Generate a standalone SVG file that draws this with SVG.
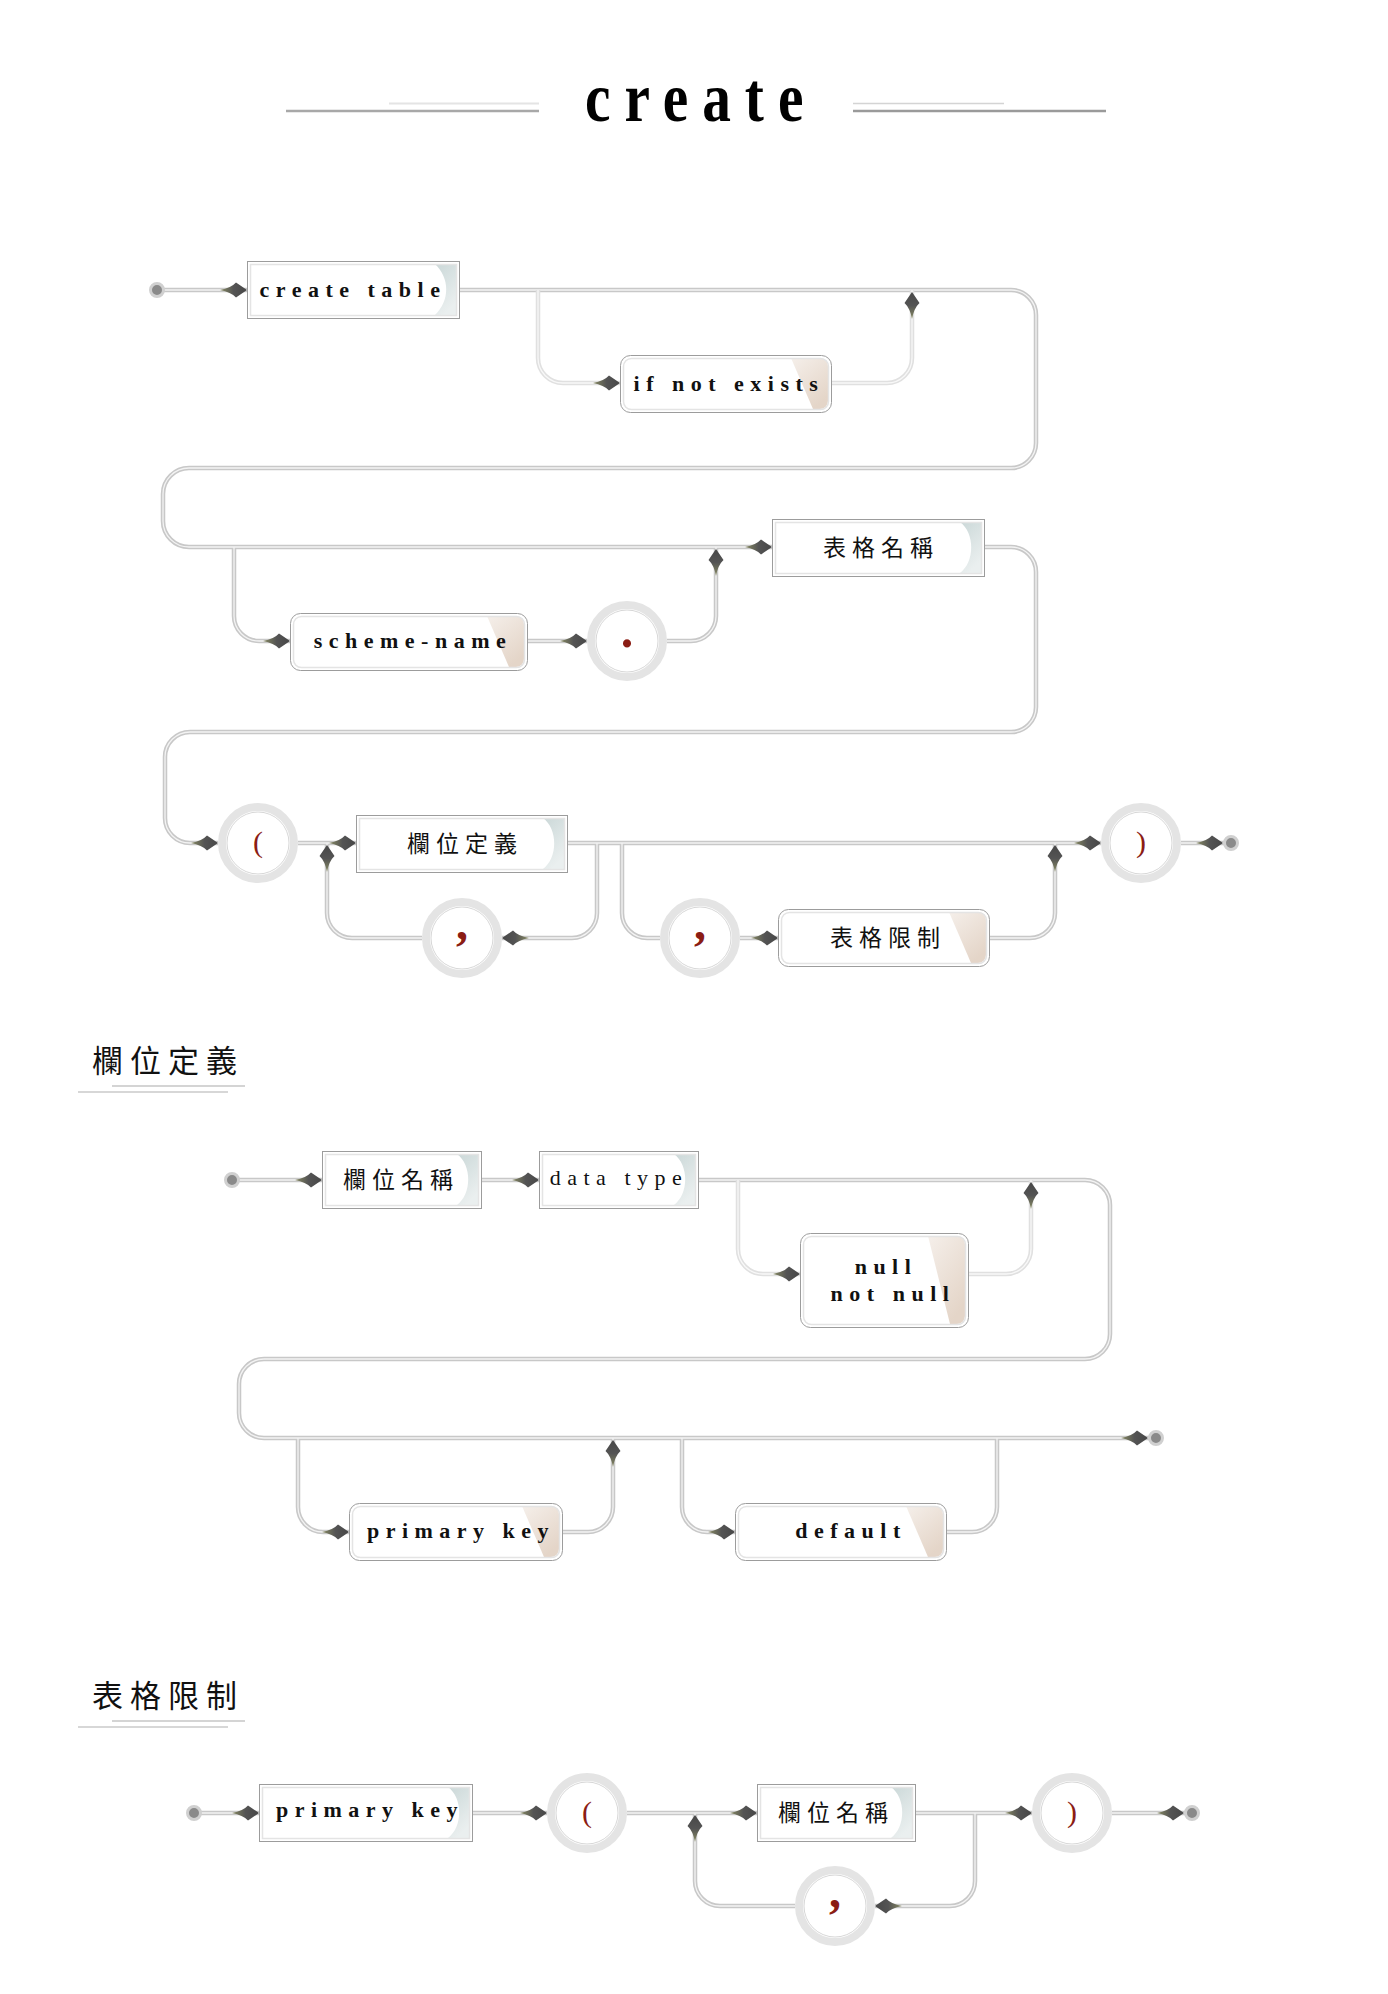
<svg xmlns="http://www.w3.org/2000/svg" xmlns:xlink="http://www.w3.org/1999/xlink" width="1388" height="1994" viewBox="0 0 1388 1994">
<style>
.bg{fill:#fff}
.nb{fill:#fff;stroke:#9c9c9c;stroke-width:1}
.ni{fill:none;stroke:#e4e4e4;stroke-width:1.5}
.pr{fill:url(#gr)}
.pq{fill:url(#gq)}
.ring{fill:#fff;stroke:#e4e4e4;stroke-width:8}
.ringi{fill:none;stroke:#cdcdcd;stroke-width:0.8}
.dot{fill:#8a8a8a;stroke:#d0d0d0;stroke-width:3}
.wo{fill:none;stroke:#c8c8c8;stroke-width:4.5}
.wi{fill:none;stroke:#f3f3f3;stroke-width:1.3}
.lo{fill:none;stroke:#e0e0e0;stroke-width:4.5}
.li{fill:none;stroke:#f8f8f8;stroke-width:1.3}
.lb{font-family:"Liberation Serif",serif;font-weight:bold;font-size:22px;letter-spacing:6.5px;fill:#111;text-anchor:middle}
.lr{font-family:"Liberation Serif",serif;font-weight:normal;font-size:22px;letter-spacing:6.5px;fill:#111;text-anchor:middle}
.cj{font-family:"Noto Sans CJK TC","Noto Sans CJK SC",sans-serif;font-size:23px;letter-spacing:6px;fill:#111;text-anchor:middle}
.hd{font-family:"Noto Sans CJK TC","Noto Sans CJK SC",sans-serif;font-size:31px;letter-spacing:7px;fill:#111}
.pn{font-family:"Liberation Serif",serif;font-size:30px;fill:#8b1d14;text-anchor:middle}
.cm{font-family:"Liberation Serif",serif;font-weight:bold;font-size:48px;fill:#8b1d14;text-anchor:middle}
.tt{font-family:"Liberation Serif",serif;font-weight:bold;font-size:70px;letter-spacing:17px;fill:#000}
</style>
<defs>
<linearGradient id="gr" x1="0" y1="0" x2="0.4" y2="1"><stop offset="0" stop-color="#cbd8d8"/><stop offset="1" stop-color="#eaefef"/></linearGradient>
<linearGradient id="gq" x1="0" y1="0" x2="0.6" y2="1"><stop offset="0" stop-color="#f5efea"/><stop offset="1" stop-color="#e4d5c8"/></linearGradient>
<linearGradient id="ag" x1="0" y1="0" x2="1" y2="0"><stop offset="0" stop-color="#878a62"/><stop offset="0.5" stop-color="#545454"/><stop offset="1" stop-color="#474747"/></linearGradient>
<path id="ar" d="M-27,0 Q-16,-2 -11,-7.5 L0,0 L-11,7.5 Q-16,2 -27,0Z" fill="url(#ag)"/>
<g id="wm">
<path d="M157,290 L247,290"/>
<path d="M459,290 L1011,290 A25,25 0 0 1 1036,315 L1036,443 A25,25 0 0 1 1011,468 L189,468 A26,26 0 0 0 163,494 L163,521 A26,26 0 0 0 189,547 L772,547"/>
<path d="M234,547 L234,616 A25,25 0 0 0 259,641 L290,641"/>
<path d="M527,641 L587,641"/>
<path d="M667,641 L691,641 A25,25 0 0 0 716,616 L716,547"/>
<path d="M984,547 L1011,547 A25,25 0 0 1 1036,572 L1036,707 A25,25 0 0 1 1011,732 L190,732 A25,25 0 0 0 165,757 L165,818 A25,25 0 0 0 190,843 L218,843"/>
<path d="M298,843 L356,843"/>
<path d="M567,843 L1101,843"/>
<path d="M1181,843 L1231,843"/>
<path d="M597,843 L597,913 A25,25 0 0 1 572,938 L502,938"/>
<path d="M422,938 L352,938 A25,25 0 0 1 327,913 L327,843"/>
<path d="M622,843 L622,913 A25,25 0 0 0 647,938 L660,938"/>
<path d="M740,938 L778,938"/>
<path d="M989,938 L1030,938 A25,25 0 0 0 1055,913 L1055,843"/>
<path d="M232,1180 L322,1180"/>
<path d="M481,1180 L539,1180"/>
<path d="M698,1180 L1085,1180 A25,25 0 0 1 1110,1205 L1110,1334 A25,25 0 0 1 1085,1359 L264,1359 A25,25 0 0 0 239,1384 L239,1413 A25,25 0 0 0 264,1438 L1156,1438"/>
<path d="M298,1438 L298,1507 A25,25 0 0 0 323,1532 L349,1532"/>
<path d="M562,1532 L588,1532 A25,25 0 0 0 613,1507 L613,1438"/>
<path d="M682,1438 L682,1507 A25,25 0 0 0 707,1532 L735,1532"/>
<path d="M946,1532 L972,1532 A25,25 0 0 0 997,1507 L997,1438"/>
<path d="M194,1813 L259,1813"/>
<path d="M472,1813 L547,1813"/>
<path d="M627,1813 L757,1813"/>
<path d="M915,1813 L1032,1813"/>
<path d="M1112,1813 L1192,1813"/>
<path d="M975,1813 L975,1881 A25,25 0 0 1 950,1906 L875,1906"/>
<path d="M795,1906 L720,1906 A25,25 0 0 1 695,1881 L695,1813"/>
</g>
<g id="wl">
<path d="M538,290 L538,358 A25,25 0 0 0 563,383 L620,383"/>
<path d="M831,383 L887,383 A25,25 0 0 0 912,358 L912,290"/>
<path d="M738,1180 L738,1249 A25,25 0 0 0 763,1274 L800,1274"/>
<path d="M968,1274 L1006,1274 A25,25 0 0 0 1031,1249 L1031,1180"/>
</g>
</defs>
<rect class="bg" x="0" y="0" width="1388" height="1994"/>

<g id="title">
<line x1="286" y1="111" x2="539" y2="111" stroke="#a8a8a8" stroke-width="2.5"/>
<line x1="389" y1="103.5" x2="539" y2="103.5" stroke="#e4e4e4" stroke-width="2"/>
<line x1="853" y1="103.5" x2="1004" y2="103.5" stroke="#d4d4d4" stroke-width="1.5"/>
<line x1="853" y1="111" x2="1106" y2="111" stroke="#9a9a9a" stroke-width="2.5"/>
<text class="tt" transform="translate(585,121) scale(0.82,1)" x="0" y="0">create</text>
</g>

<g id="heading-2">
<text class="hd" x="92" y="1072">欄位定義</text>
<line x1="112" y1="1086" x2="245" y2="1086" stroke="#d4d4d4" stroke-width="2"/>
<line x1="78" y1="1092" x2="228" y2="1092" stroke="#cacaca" stroke-width="1.5"/>
</g>
<g id="heading-3">
<text class="hd" x="92" y="1707">表格限制</text>
<line x1="112" y1="1721" x2="245" y2="1721" stroke="#d4d4d4" stroke-width="2"/>
<line x1="78" y1="1727" x2="228" y2="1727" stroke="#cacaca" stroke-width="1.5"/>
</g>

<g id="connectors">
<use href="#wm" class="wo"/>
<use href="#wm" class="wi"/>
<use href="#wl" class="lo"/>
<use href="#wl" class="li"/>
<use href="#ar" transform="translate(247,290)"/>
<use href="#ar" transform="translate(620,383)"/>
<use href="#ar" transform="translate(912,292) rotate(-90)"/>
<use href="#ar" transform="translate(290,641)"/>
<use href="#ar" transform="translate(587,641)"/>
<use href="#ar" transform="translate(716,549) rotate(-90)"/>
<use href="#ar" transform="translate(772,547)"/>
<use href="#ar" transform="translate(218,843)"/>
<use href="#ar" transform="translate(356,843)"/>
<use href="#ar" transform="translate(1101,843)"/>
<use href="#ar" transform="translate(1223,843)"/>
<use href="#ar" transform="translate(502,938) rotate(180)"/>
<use href="#ar" transform="translate(327,845) rotate(-90)"/>
<use href="#ar" transform="translate(778,938)"/>
<use href="#ar" transform="translate(1055,845) rotate(-90)"/>
<use href="#ar" transform="translate(322,1180)"/>
<use href="#ar" transform="translate(539,1180)"/>
<use href="#ar" transform="translate(800,1274)"/>
<use href="#ar" transform="translate(1031,1182) rotate(-90)"/>
<use href="#ar" transform="translate(1148,1438)"/>
<use href="#ar" transform="translate(349,1532)"/>
<use href="#ar" transform="translate(613,1440) rotate(-90)"/>
<use href="#ar" transform="translate(735,1532)"/>
<use href="#ar" transform="translate(259,1813)"/>
<use href="#ar" transform="translate(547,1813)"/>
<use href="#ar" transform="translate(757,1813)"/>
<use href="#ar" transform="translate(1032,1813)"/>
<use href="#ar" transform="translate(1184,1813)"/>
<use href="#ar" transform="translate(875,1906) rotate(180)"/>
<use href="#ar" transform="translate(695,1815) rotate(-90)"/>
</g>

<!-- terminals -->
<g id="d1-start"><circle class="dot" cx="157" cy="290" r="6.5"/></g>
<g id="d1-end"><circle class="dot" cx="1231" cy="843" r="6.5"/></g>
<g id="d2-start"><circle class="dot" cx="232" cy="1180" r="6.5"/></g>
<g id="d2-end"><circle class="dot" cx="1156" cy="1438" r="6.5"/></g>
<g id="d3-start"><circle class="dot" cx="194" cy="1813" r="6.5"/></g>
<g id="d3-end"><circle class="dot" cx="1192" cy="1813" r="6.5"/></g>

<!-- rectangular nodes -->
<g id="n-create-table">
<rect class="nb" x="247.5" y="261.5" width="212" height="57"/>
<path class="pr" d="M435,264 C450,278 450,301 435,315 L456,315 L456,264Z"/>
<rect class="ni" x="250.5" y="264.5" width="206" height="51"/>
<text class="lb" x="353" y="297">create table</text>
</g>
<g id="n-table-name">
<rect class="nb" x="772.5" y="519.5" width="212" height="57"/>
<path class="pr" d="M960,522 C975,533 975,562 960,573 L981,573 L981,522Z"/>
<rect class="ni" x="775.5" y="522.5" width="206" height="51"/>
<text class="cj" x="881" y="556">表格名稱</text>
</g>
<g id="n-column-def">
<rect class="nb" x="356.5" y="815.5" width="211" height="57"/>
<path class="pr" d="M543,818 C558,829 558,858 543,869 L564,869 L564,818Z"/>
<rect class="ni" x="359.5" y="818.5" width="205" height="51"/>
<text class="cj" x="465" y="852">欄位定義</text>
</g>
<g id="n-column-name-2">
<rect class="nb" x="322.5" y="1151.5" width="159" height="57"/>
<path class="pr" d="M457,1154 C472,1165 472,1194 457,1205 L478,1205 L478,1154Z"/>
<rect class="ni" x="325.5" y="1154.5" width="153" height="51"/>
<text class="cj" x="401" y="1188">欄位名稱</text>
</g>
<g id="n-data-type">
<rect class="nb" x="539.5" y="1151.5" width="159" height="57"/>
<path class="pr" d="M674,1154 C689,1165 689,1194 674,1205 L695,1205 L695,1154Z"/>
<rect class="ni" x="542.5" y="1154.5" width="153" height="51"/>
<text class="lr" x="619" y="1185">data type</text>
</g>
<g id="n-primary-key-3">
<rect class="nb" x="259.5" y="1784.5" width="213" height="57"/>
<path class="pr" d="M448,1787 C463,1798 463,1827 448,1838 L469,1838 L469,1787Z"/>
<rect class="ni" x="262.5" y="1787.5" width="207" height="51"/>
<text class="lb" x="370" y="1817">primary key</text>
</g>
<g id="n-column-name-3">
<rect class="nb" x="757.5" y="1784.5" width="158" height="57"/>
<path class="pr" d="M891,1787 C906,1798 906,1827 891,1838 L912,1838 L912,1787Z"/>
<rect class="ni" x="760.5" y="1787.5" width="152" height="51"/>
<text class="cj" x="836" y="1821">欄位名稱</text>
</g>

<!-- rounded (optional) nodes -->
<g id="n-if-not-exists">
<rect class="nb" x="620.5" y="355.5" width="211" height="57" rx="10"/>
<path class="pq" d="M791,358 L820,358 A8,8 0 0 1 828,366 L828,401 A8,8 0 0 1 820,409 L813,409Z"/>
<rect class="ni" x="623.5" y="358.5" width="205" height="51" rx="8"/>
<text class="lb" x="729" y="391">if not exists</text>
</g>
<g id="n-scheme-name">
<rect class="nb" x="290.5" y="613.5" width="237" height="57" rx="10"/>
<path class="pq" d="M487,616 L516,616 A8,8 0 0 1 524,624 L524,659 A8,8 0 0 1 516,667 L509,667Z"/>
<rect class="ni" x="293.5" y="616.5" width="231" height="51" rx="8"/>
<text class="lb" x="413" y="648">scheme-name</text>
</g>
<g id="n-table-constraint">
<rect class="nb" x="778.5" y="909.5" width="211" height="57" rx="10"/>
<path class="pq" d="M949,912 L978,912 A8,8 0 0 1 986,920 L986,955 A8,8 0 0 1 978,963 L971,963Z"/>
<rect class="ni" x="781.5" y="912.5" width="205" height="51" rx="8"/>
<text class="cj" x="888" y="946">表格限制</text>
</g>
<g id="n-null">
<rect class="nb" x="800.5" y="1233.5" width="168" height="94" rx="10"/>
<path class="pq" d="M928,1236 L957,1236 A8,8 0 0 1 965,1244 L965,1316 A8,8 0 0 1 957,1324 L950,1324Z"/>
<rect class="ni" x="803.5" y="1236.5" width="162" height="88" rx="8"/>
<text class="lb" x="886" y="1274">null</text>
<text class="lb" x="893" y="1301">not null</text>
</g>
<g id="n-primary-key-2">
<rect class="nb" x="349.5" y="1503.5" width="213" height="57" rx="10"/>
<path class="pq" d="M522,1506 L551,1506 A8,8 0 0 1 559,1514 L559,1549 A8,8 0 0 1 551,1557 L544,1557Z"/>
<rect class="ni" x="352.5" y="1506.5" width="207" height="51" rx="8"/>
<text class="lb" x="461" y="1538">primary key</text>
</g>
<g id="n-default">
<rect class="nb" x="735.5" y="1503.5" width="211" height="57" rx="10"/>
<path class="pq" d="M906,1506 L935,1506 A8,8 0 0 1 943,1514 L943,1549 A8,8 0 0 1 935,1557 L928,1557Z"/>
<rect class="ni" x="738.5" y="1506.5" width="205" height="51" rx="8"/>
<text class="lb" x="851" y="1538">default</text>
</g>

<!-- circle nodes -->
<g id="c-dot">
<circle class="ring" cx="627" cy="641" r="36"/><circle class="ringi" cx="627" cy="641" r="31"/>
<text class="cm" x="627" y="647" style="font-size:50px">.</text>
</g>
<g id="c-open-1">
<circle class="ring" cx="258" cy="843" r="36"/><circle class="ringi" cx="258" cy="843" r="31"/>
<text class="pn" x="258" y="852">(</text>
</g>
<g id="c-close-1">
<circle class="ring" cx="1141" cy="843" r="36"/><circle class="ringi" cx="1141" cy="843" r="31"/>
<text class="pn" x="1141" y="852">)</text>
</g>
<g id="c-comma-1">
<circle class="ring" cx="462" cy="938" r="36"/><circle class="ringi" cx="462" cy="938" r="31"/>
<text class="cm" x="462" y="939">,</text>
</g>
<g id="c-comma-2">
<circle class="ring" cx="700" cy="938" r="36"/><circle class="ringi" cx="700" cy="938" r="31"/>
<text class="cm" x="700" y="939">,</text>
</g>
<g id="c-open-3">
<circle class="ring" cx="587" cy="1813" r="36"/><circle class="ringi" cx="587" cy="1813" r="31"/>
<text class="pn" x="587" y="1822">(</text>
</g>
<g id="c-close-3">
<circle class="ring" cx="1072" cy="1813" r="36"/><circle class="ringi" cx="1072" cy="1813" r="31"/>
<text class="pn" x="1072" y="1822">)</text>
</g>
<g id="c-comma-3">
<circle class="ring" cx="835" cy="1906" r="36"/><circle class="ringi" cx="835" cy="1906" r="31"/>
<text class="cm" x="835" y="1907">,</text>
</g>
</svg>
